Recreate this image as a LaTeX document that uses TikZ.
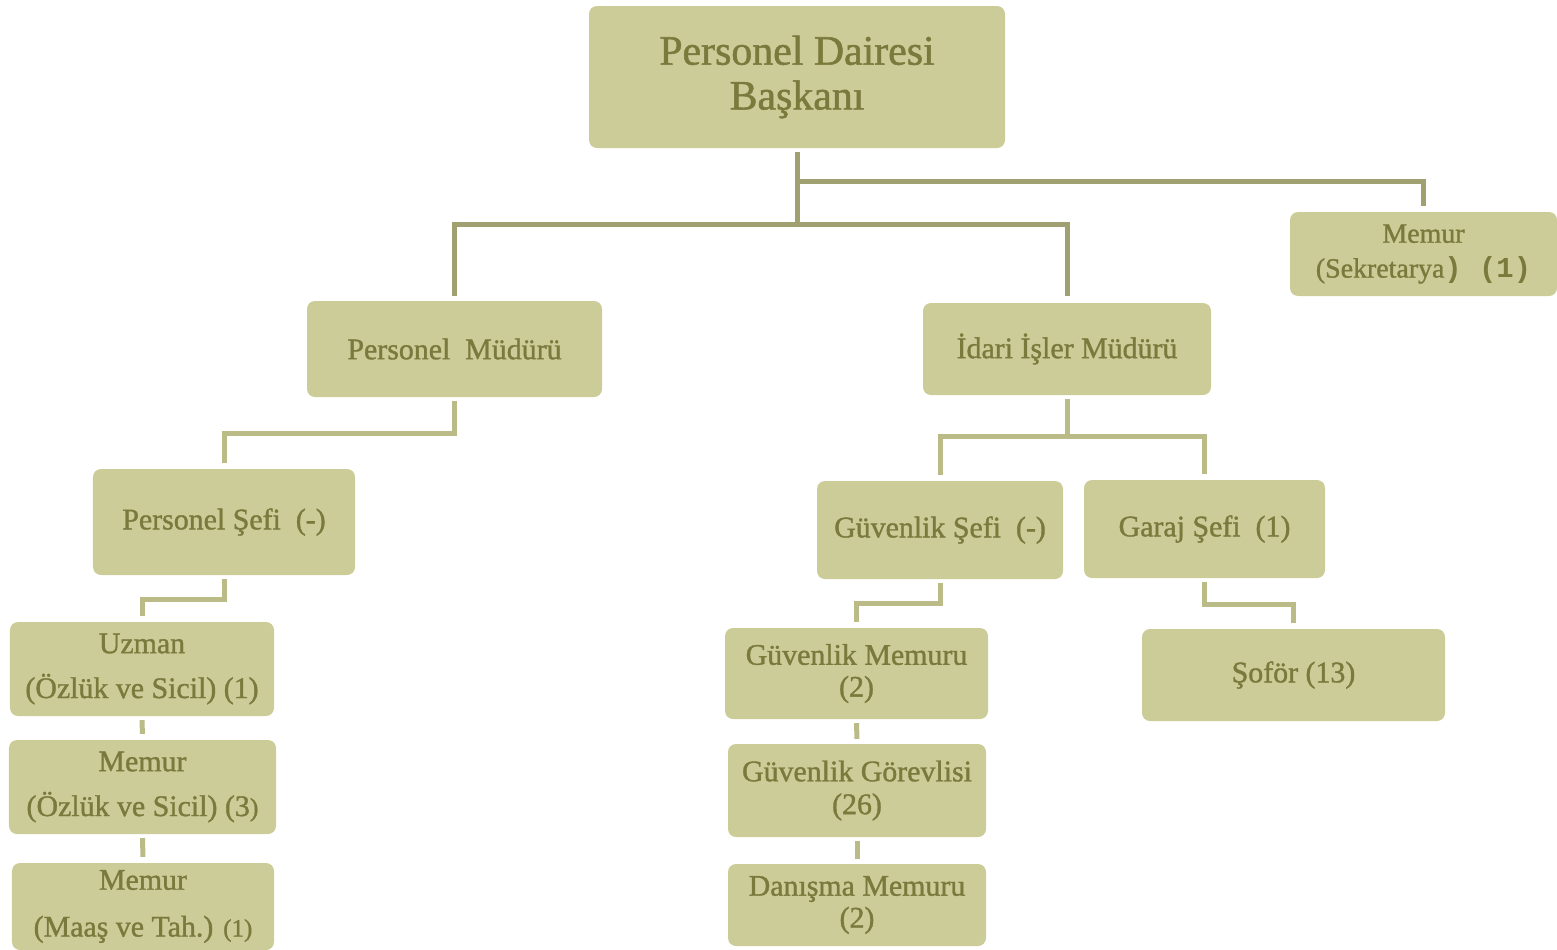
\documentclass[tikz,border=0pt]{standalone}
\usepackage{fontspec}
\setmainfont{Liberation Serif}
\newfontfamily\boxfont[FakeBold=1.2]{Liberation Serif}
\newfontfamily\monofnt{Liberation Mono}
\usetikzlibrary{calc}
\usetikzlibrary{positioning}

\definecolor{boxfill}{RGB}{204,204,153}
\definecolor{boxtext}{RGB}{122,122,61}
\definecolor{linetop}{RGB}{160,160,112}
\definecolor{linelow}{RGB}{187,187,136}

\tikzset{
  box/.style={rectangle, rounded corners=8bp, fill=boxfill, text=boxtext, align=center,
    inner sep=0pt, font=\boxfont\fontsize{30}{45}\selectfont},
  topline/.style={draw=linetop, line width=5bp},
  lowline/.style={draw=linelow, line width=5bp},
}

\begin{document}
\begin{tikzpicture}[x=1bp,y=-1bp]
\useasboundingbox (0,0) rectangle (1557,949);

% head
\node[box, minimum width=416bp, minimum height=142bp, font=\boxfont\fontsize{42}{45}\selectfont] (pdb) at (797,77) {Personel Dairesi\\Başkanı};
\node[box, minimum width=267bp, minimum height=84bp, font=\boxfont\fontsize{28}{35}\selectfont] (sek) at (1423.5,254) {Memur\\(Sekretarya{\monofnt\bfseries\fontsize{29}{35}\selectfont) (1)}};

% managers
\node[box, minimum width=295bp, minimum height=96bp] (pm) at (454.5,349) {Personel\ \ Müdürü};
\node[box, minimum width=288bp, minimum height=92bp] (im) at (1067,349) {İdari İşler Müdürü};

% chiefs
\node[box, minimum width=262bp, minimum height=106bp] (ps) at (224,522) {Personel Şefi\ \ (-)};
\node[box, minimum width=246bp, minimum height=98bp] (gs) at (940,530) {Güvenlik Şefi\ \ (-)};
\node[box, minimum width=241bp, minimum height=98bp] (gar) at (1204.5,529) {Garaj Şefi\ \ (1)};

% staff, left
\node[box, minimum width=264bp, minimum height=94bp] (uz) at (142,669) {Uzman\\(Özlük ve Sicil) (1)};
\node[box, minimum width=267bp, minimum height=94bp] (mem1) at (142.5,787) {Memur\\(Özlük ve Sicil) (3{\fontsize{26}{45}\selectfont)}};
\node[box, minimum width=262bp, minimum height=87bp, font=\boxfont\fontsize{30}{47}\selectfont] (mem2) at (143,906.5) {Memur\\(Maaş ve Tah.) {\fontsize{25}{47}\selectfont(1)}};

% staff, right
\node[box, minimum width=263bp, minimum height=91bp, font=\boxfont\fontsize{30}{32}\selectfont] (gm) at (856.5,673.5) {Güvenlik Memuru\\(2)};
\node[box, minimum width=258bp, minimum height=93bp, font=\boxfont\fontsize{30}{33}\selectfont] (gg) at (857,790.5) {Güvenlik Görevlisi\\(26)};
\node[box, minimum width=258bp, minimum height=82bp, font=\boxfont\fontsize{30}{32}\selectfont] (dm) at (857,905) {Danışma Memuru\\(2)};
\node[box, minimum width=303bp, minimum height=92bp] (sof) at (1293.5,675) {Şoför (13)};

% top connectors
\draw[topline, shorten <=4bp] (pdb.south) -- ++(0,78);
\draw[topline, shorten >=6bp] (pdb.south) ++(0,33) -| (sek.north);
\draw[topline, shorten <=5bp, shorten >=7bp] (pm.north) -- ++(0,-76) -| (im.north);

% left branch
\draw[lowline, shorten <=4bp, shorten >=6bp] (pm.south) -- ++(0,36) -| (ps.north);
\draw[lowline, shorten <=4bp, shorten >=6bp] (ps.south) -- ++(0,24) -| (uz.north);
\draw[lowline, shorten <=4bp, shorten >=6bp] (uz.south) -- (mem1.north);
\draw[lowline, shorten <=4bp, shorten >=6bp] (mem1.south) -- (mem2.north);

% right branch
\draw[lowline, shorten <=4bp] (im.south) -- ++(0,42);
\draw[lowline, shorten <=6bp, shorten >=6bp] (gs.north) -- ++(0,-44) -| (gar.north);
\draw[lowline, shorten <=4bp, shorten >=6bp] (gs.south) -- ++(0,24) -| (gm.north);
\draw[lowline, shorten <=4bp, shorten >=5bp] (gm.south) -- (gg.north);
\draw[lowline, shorten <=4bp, shorten >=5bp] (gg.south) -- (dm.north);
\draw[lowline, shorten <=4bp, shorten >=6bp] (gar.south) -- ++(0,26) -| (sof.north);
\end{tikzpicture}
\end{document}
